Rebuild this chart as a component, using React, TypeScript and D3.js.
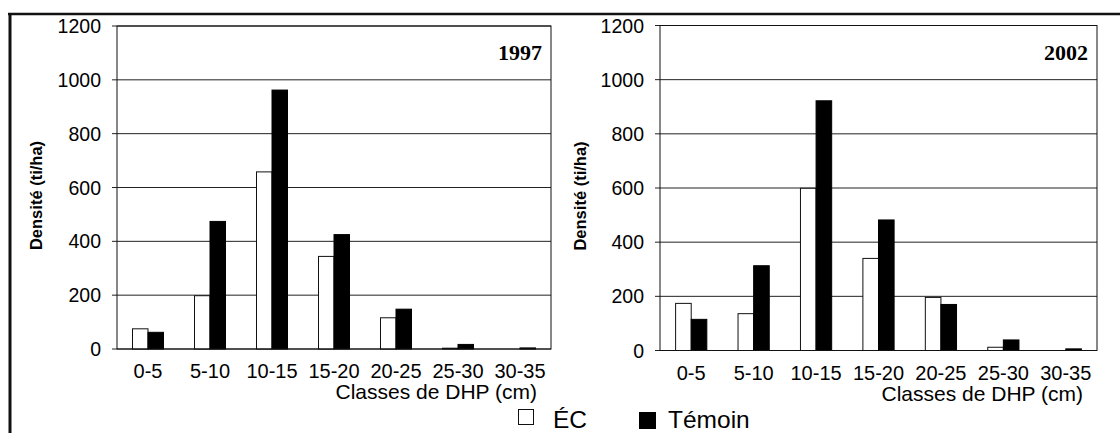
import React from 'react';
import * as d3 from 'd3';

const categories = ['0-5', '5-10', '10-15', '15-20', '20-25', '25-30', '30-35'];
const ec1997 = [75, 198, 658, 344, 116, 3, 0];
const temoin1997 = [62, 474, 962, 425, 148, 17, 4];
const ec2002 = [174, 136, 599, 340, 196, 12, 0];
const temoin2002 = [115, 313, 922, 482, 170, 39, 6];
const yTicks = [0, 200, 400, 600, 800, 1000, 1200];
const seriesNames = ['ÉC', 'Témoin'];

const SANS = '"Liberation Sans", Arial, Helvetica, sans-serif';
const SERIF = '"Liberation Serif", "Times New Roman", serif';

type PanelProps = {
  x0: number; x1: number; yTop: number; y0: number;
  ec: number[]; tem: number[]; year: string; titleX: number;
};

function Panel({ x0, x1, yTop, y0, ec, tem, year, titleX }: PanelProps) {
  const x = d3.scaleBand<string>().domain(categories).range([x0, x1]).padding(0);
  const bw = x.bandwidth();
  const inner = d3.scaleBand<string>().domain(seriesNames).range([bw * 0.25, bw * 0.75]).padding(0);
  const y = d3.scaleLinear().domain([0, 1200]).range([y0, yTop]);
  return (
    <g>
      {yTicks.map((t) => (
        <g key={t}>
          <line x1={x0} x2={x1} y1={y(t)} y2={y(t)} stroke="#222" strokeWidth={1} />
          <line x1={x0 - 5} x2={x0} y1={y(t)} y2={y(t)} stroke="#222" strokeWidth={1} />
          <text x={x0 - 16} y={y(t)} dy="0.36em" textAnchor="end" fontFamily={SANS} fontSize={19.5} fill="#000">{t}</text>
        </g>
      ))}
      {categories.map((c, i) => (
        <g key={c}>
          <rect x={(x(c) as number) + (inner('ÉC') as number)} y={y(ec[i])} width={inner.bandwidth()} height={y0 - y(ec[i])}
            fill="#fff" stroke="#111" strokeWidth={1} />
          <rect x={(x(c) as number) + (inner('Témoin') as number)} y={y(tem[i])} width={inner.bandwidth()} height={y0 - y(tem[i])}
            fill="#000" stroke="#000" strokeWidth={1} />
          <text x={(x(c) as number) + bw / 2} y={y0 + 29} textAnchor="middle" fontFamily={SANS} fontSize={20} fill="#000">{c}</text>
        </g>
      ))}
      <rect x={x0} y={yTop} width={x1 - x0} height={y0 - yTop} fill="none" stroke="#111" strokeWidth={1} />
      <text x={x1 - 9} y={yTop + 34} textAnchor="end" fontFamily={SERIF} fontWeight="bold" fontSize={22} fill="#000">{year}</text>
      <text x={x1 - 14} y={y0 + 50} textAnchor="end" fontFamily={SANS} fontSize={21} fill="#000">Classes de DHP (cm)</text>
      <text transform={`translate(${titleX},${(yTop + y0) / 2 + 8}) rotate(-90)`} textAnchor="middle" dy="0.35em"
        fontFamily={SANS} fontWeight="bold" fontSize={16.5} fill="#000">Densité (ti/ha)</text>
    </g>
  );
}

export default function App() {
  return (
    <div style={{ position: 'fixed', left: 0, top: 0, width: 1120, height: 433, background: '#fff' }}>
      <svg width={1120} height={433} style={{ display: 'block' }}>
        <rect x={0} y={0} width={1120} height={433} fill="#fff" />
        <line x1={8} x2={1120} y1={14} y2={14} stroke="#111" strokeWidth={2.5} />
        <line x1={10} x2={10} y1={13} y2={433} stroke="#111" strokeWidth={3} />
        <Panel x0={117} x1={551} yTop={26} y0={349} ec={ec1997} tem={temoin1997} year="1997" titleX={36} />
        <Panel x0={660} x1={1097} yTop={25.5} y0={350.5} ec={ec2002} tem={temoin2002} year="2002" titleX={580} />
        <rect x={518.5} y={409.5} width={15} height={15} fill="#fff" stroke="#111" strokeWidth={1} />
        <text x={553} y={428} fontFamily={SANS} fontSize={24.5} fill="#000">{seriesNames[0]}</text>
        <rect x={639} y={412} width={17} height={17} fill="#000" />
        <text x={668} y={428} fontFamily={SANS} fontSize={24.5} fill="#000">{seriesNames[1]}</text>
      </svg>
    </div>
  );
}
